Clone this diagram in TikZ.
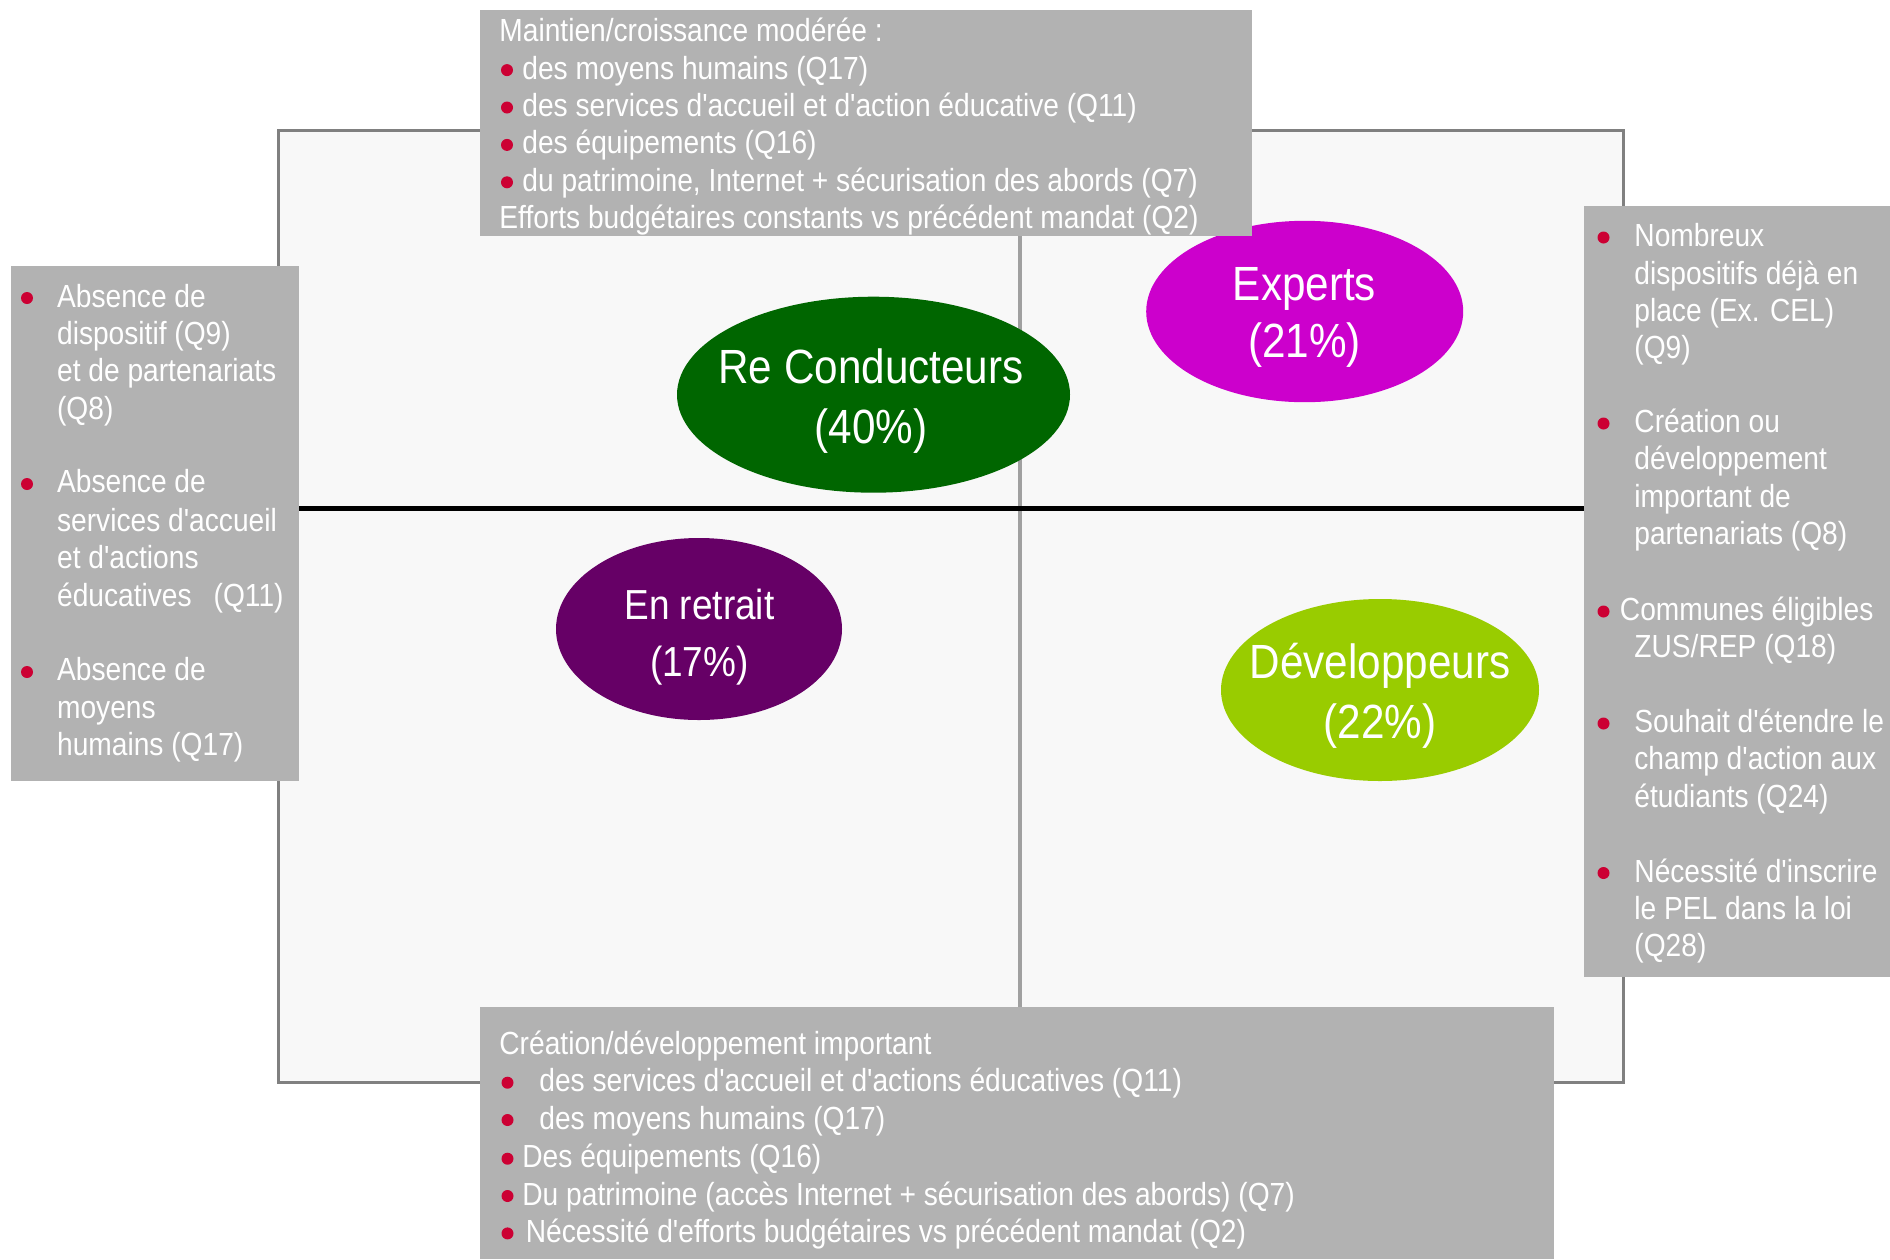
\documentclass[tikz,border=0pt]{standalone}
\usepackage{fontspec}
\newfontfamily\narrow{Liberation Sans}[FakeStretch=0.88]
\usetikzlibrary{shapes.geometric}
\definecolor{boxgrey}{HTML}{B2B2B2}
\definecolor{framegrey}{HTML}{808080}
\definecolor{framefill}{HTML}{F8F8F8}
\definecolor{axisgrey}{HTML}{A0A0A0}
\definecolor{bulred}{HTML}{CC0033}
\definecolor{rcgreen}{HTML}{006600}
\definecolor{expmag}{HTML}{CC00CC}
\definecolor{retpurple}{HTML}{660066}
\definecolor{devgreen}{HTML}{99CC00}
\tikzset{
  greybox/.style={rectangle, fill=boxgrey, inner sep=0pt, outer sep=0pt},
  bt/.style={anchor=base west, inner sep=0pt, text=white, font=\narrow\fontsize{16}{19}\selectfont},
  et/.style={anchor=base, inner sep=0pt, text=white, font=\narrow\fontsize{24}{29}\selectfont},
  ets/.style={anchor=base, inner sep=0pt, text=white, font=\narrow\fontsize{21}{25}\selectfont},
  oval/.style={ellipse, inner sep=0pt, outer sep=0pt},
  bul/.style={fill=bulred}
}
\begin{document}
\begin{tikzpicture}[x=0.5pt,y=-0.5pt]
\useasboundingbox (0,0) rectangle (1890,1259);
% quadrant frame
\node[rectangle, draw=framegrey, line width=1.5pt, fill=framefill, minimum width=672.6pt, minimum height=476.2pt, inner sep=0pt] (frame) at (951.2,606.7) {};
\coordinate (vt) at (1019.5,130.5);
\coordinate (vb) at (1019.5,1082.8);
\draw[axisgrey, line width=2pt] (vt) -- (vb);
% ellipses
\node[oval, fill=rcgreen, minimum width=196.5pt, minimum height=98pt] (rc) at (873.5,394.7) {};
\node[oval, fill=expmag, minimum width=158.5pt, minimum height=90.7pt] (exp) at (1304.7,311.5) {};
\node[oval, fill=retpurple, minimum width=143pt, minimum height=91pt] (ret) at (699,629) {};
\node[oval, fill=devgreen, minimum width=159pt, minimum height=91pt] (dev) at (1380,690) {};
\node[et] (rc1) at (871,383.3) {Re Conducteurs};
\node[et] (rc2) at (871,443.3) {(40\%)};
\node[et] (exp1) at (1304.5,300) {Experts};
\node[et] (exp2) at (1304.5,357) {(21\%)};
\node[ets] (ret1) at (699.4,619) {En retrait};
\node[ets] (ret2) at (699.4,676.7) {(17\%)};
\node[et] (dev1) at (1380,678.7) {Développeurs};
\node[et] (dev2) at (1380,738.3) {(22\%)};
% grey boxes
\node[greybox, minimum width=385.75pt, minimum height=113pt] (topbox) at (865.75,123) {};
\node[greybox, minimum width=144pt, minimum height=257.5pt] (leftbox) at (155,523) {};
\node[greybox, minimum width=153pt, minimum height=385.8pt] (rightbox) at (1737,591.5) {};
\node[greybox, minimum width=537pt, minimum height=126pt] (botbox) at (1017,1133) {};
% horizontal axis between side boxes
\coordinate (hl) at (leftbox.east |- 0,508.5);
\coordinate (hr) at (rightbox.west |- 0,508.5);
\draw[black, line width=2.25pt] (hl) -- (hr);
% top box text
\node[bt] (t1) at (499,41.7) {Maintien/croissance modérée :};
\fill[bul] (507,70.1) circle[radius=3pt];
\node[bt] (t2) at (522,79.1) {des moyens humains (Q17)};
\fill[bul] (507,107.5) circle[radius=3pt];
\node[bt] (t3) at (522,116.5) {des services d'accueil et d'action éducative (Q11)};
\fill[bul] (507,144.9) circle[radius=3pt];
\node[bt] (t4) at (522,153.9) {des équipements (Q16)};
\fill[bul] (507,182.3) circle[radius=3pt];
\node[bt] (t5) at (522,191.3) {du patrimoine, Internet + sécurisation des abords (Q7)};
\node[bt] (t6) at (499,228.7) {Efforts budgétaires constants vs précédent mandat (Q2)};
% left box text
\fill[bul] (27,298) circle[radius=3pt];
\node[bt] (l1) at (56.7,307) {Absence de};
\node[bt] (l2) at (56.7,344.4) {dispositif (Q9)};
\node[bt] (l3) at (56.7,381.8) {et de partenariats};
\node[bt] (l4) at (56.7,419.1) {(Q8)};
\fill[bul] (27,484) circle[radius=3pt];
\node[bt] (l5) at (56.7,492.7) {Absence de};
\node[bt] (l6) at (56.7,531.2) {services d'accueil};
\node[bt] (l7) at (56.7,568.6) {et d'actions};
\node[bt] (l8) at (56.7,606) {éducatives\hspace{11pt}(Q11)};
\fill[bul] (27,672) circle[radius=3pt];
\node[bt] (l9) at (56.7,680.7) {Absence de};
\node[bt] (l10) at (56.7,718.1) {moyens};
\node[bt] (l11) at (56.7,755.4) {humains (Q17)};
% right box text
\fill[bul] (1603.5,237.5) circle[radius=3pt];
\node[bt] (r1) at (1634,246.8) {Nombreux};
\node[bt] (r2) at (1634,284.1) {dispositifs déjà en};
\node[bt] (r3) at (1634,321.5) {place (Ex. CEL)};
\node[bt] (r4) at (1634,358.9) {(Q9)};
\fill[bul] (1603.5,423.5) circle[radius=3pt];
\node[bt] (r5) at (1634,432.4) {Création ou};
\node[bt] (r6) at (1634,469.8) {développement};
\node[bt] (r7) at (1634,507.1) {important de};
\node[bt] (r8) at (1634,544.5) {partenariats (Q8)};
\fill[bul] (1603.5,611.5) circle[radius=3pt];
\node[bt] (r9) at (1619.5,620.4) {Communes éligibles};
\node[bt] (r10) at (1634,657.8) {ZUS/REP (Q18)};
\fill[bul] (1603.5,723.5) circle[radius=3pt];
\node[bt] (r11) at (1634,732.5) {Souhait d'étendre le};
\node[bt] (r12) at (1634,769.9) {champ d'action aux};
\node[bt] (r13) at (1634,807.3) {étudiants (Q24)};
\fill[bul] (1603.5,873) circle[radius=3pt];
\node[bt] (r14) at (1634,882) {Nécessité d'inscrire};
\node[bt] (r15) at (1634,919.4) {le PEL dans la loi};
\node[bt] (r16) at (1634,956.7) {(Q28)};
% bottom box text
\node[bt] (b1) at (499,1054.4) {Création/développement important};
\fill[bul] (507.5,1082.7) circle[radius=3pt];
\node[bt] (b2) at (539,1091.7) {des services d'accueil et d'actions éducatives (Q11)};
\fill[bul] (507.5,1120) circle[radius=3pt];
\node[bt] (b3) at (539,1129.1) {des moyens humains (Q17)};
\fill[bul] (507.5,1158.7) circle[radius=3pt];
\node[bt] (b4) at (522,1167.7) {Des équipements (Q16)};
\fill[bul] (507.5,1196) circle[radius=3pt];
\node[bt] (b5) at (522,1205.1) {Du patrimoine (accès Internet + sécurisation des abords) (Q7)};
\fill[bul] (507.5,1233.4) circle[radius=3pt];
\node[bt] (b6) at (525.5,1242.4) {Nécessité d'efforts budgétaires vs précédent mandat (Q2)};
\end{tikzpicture}
\end{document}
